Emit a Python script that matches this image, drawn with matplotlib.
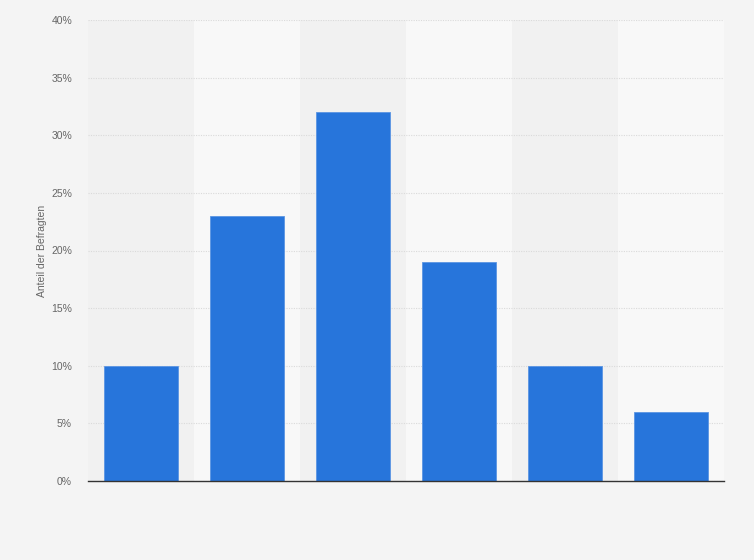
import matplotlib.pyplot as plt
import numpy as np

plt.rcParams["font.family"] = ["Liberation Sans", "DejaVu Sans"]

# data
categories = ["1", "2", "3", "4", "5", "6"]
values = [10, 23, 32, 19, 10, 6]
yticks = [0, 5, 10, 15, 20, 25, 30, 35, 40]

fig = plt.figure(figsize=(7.54, 5.6), dpi=100, facecolor="#f4f4f4")
ax = fig.add_axes([88 / 754, 1 - 481 / 560, 636 / 754, 461 / 560])
ax.set_facecolor("#f4f4f4")

x = np.arange(len(categories))

# alternating column bands
for i in x:
    band = "#f1f1f1" if i % 2 == 0 else "#f8f8f8"
    ax.axvspan(i - 0.5, i + 0.5, color=band, zorder=0, lw=0)

ax.bar(x, values, width=0.69, color="#2775db", edgecolor="#5b95e3",
       linewidth=0.6, zorder=3)

ax.set_xlim(-0.5, len(categories) - 0.5)
ax.set_ylim(0, 40)
ax.set_yticks(yticks)
ax.set_yticklabels([f"{t}%" for t in yticks])
ax.set_xticks([])

ax.grid(axis="y", color="#dadada", linestyle=(0, (1, 1.2)), linewidth=0.8, zorder=1)
ax.tick_params(axis="y", length=0, pad=11.5, labelsize=7.5, labelcolor="#666666")

for side in ["top", "right", "left"]:
    ax.spines[side].set_visible(False)
ax.spines["bottom"].set_color("#333333")
ax.spines["bottom"].set_linewidth(1.0)
ax.spines["bottom"].set_zorder(4)

ax.set_ylabel("Anteil der Befragten", fontsize=7.5, color="#666666", labelpad=3)

fig.savefig("out.png", dpi=100, facecolor=fig.get_facecolor())
